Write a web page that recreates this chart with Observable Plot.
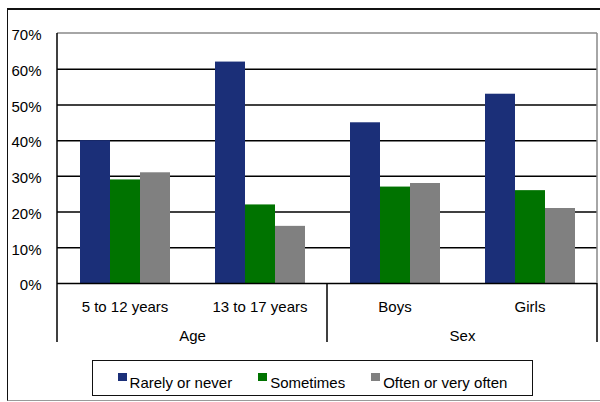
<!DOCTYPE html>
<html>
<head>
<meta charset="utf-8">
<script src="https://cdn.jsdelivr.net/npm/d3@7"></script>
<script src="https://cdn.jsdelivr.net/npm/@observablehq/plot@0.6"></script>
<style>
  html, body { margin: 0; padding: 0; background: #fff; }
  body { width: 600px; height: 402px; overflow: hidden; position: relative;
         font-family: "Liberation Sans", Arial, sans-serif; color: #000; }
  #outer { position: absolute; left: 7px; top: 8px; width: 600px; height: 393px; box-sizing: border-box;
           border-top: 2px solid #111; border-left: 1.5px solid #111; border-bottom: 1.5px solid #9a9a9a; }
  #chart { position: absolute; left: 0; top: 0; }
  #legend { position: absolute; left: 92px; top: 360px; width: 441px; height: 36px; box-sizing: border-box;
            border: 1.5px solid #111; padding-top: 12px; display: flex; justify-content: center; gap: 26px;
            font-size: 15px; }
  #legend .item { display: flex; align-items: flex-start; }
  #legend .sw { width: 9px; height: 8px; margin-right: 3px; }
  #legend .lab { margin-top: 1px; line-height: 17px; white-space: nowrap; }
</style>
</head>
<body>
<div id="outer"></div>
<div id="chart"></div>
<div id="legend"></div>
<script>
// Response categories and their colours
const series = ["Rarely or never", "Sometimes", "Often or very often"];
const seriesColors = ["#1b2f78", "#007300", "#808080"];

// Population groups along the bottom, and the heading each one falls under
const categories = ["5 to 12 years", "13 to 17 years", "Boys", "Girls"];
const groupOf = ["Age", "Age", "Sex", "Sex"];

// Share of children (%) in each response category
const rarelyOrNever = [40, 62, 45, 53];
const sometimes = [29, 22, 27, 26];
const oftenOrVeryOften = [31, 16, 28, 21];

// Value axis ticks (%)
const yTicks = [0, 10, 20, 30, 40, 50, 60, 70];

const valuesBySeries = [rarelyOrNever, sometimes, oftenOrVeryOften];
const data = categories.flatMap((c, i) =>
  series.map((s, j) => ({category: c, series: s, value: valuesBySeries[j][i]}))
);

// One heading per group, anchored at the facet where the group's midpoint lies
const groupNames = [...new Set(groupOf)];
const groupLabels = groupNames.map(g => {
  const members = categories.filter((c, i) => groupOf[i] === g);
  return {group: g, fx: members[Math.floor(members.length / 2)]};
});

const font = "'Liberation Sans', Arial, sans-serif";
const chart = Plot.plot({
  width: 600,
  height: 350,
  marginLeft: 56,
  marginRight: 3,
  marginTop: 33,
  marginBottom: 67,
  style: {background: "transparent", fontFamily: font, fontSize: "15px", color: "#000"},
  fx: {domain: categories, padding: 0, label: null},
  x: {domain: series, paddingInner: 0, paddingOuter: 0.73, axis: null},
  y: {domain: [0, 70]},
  color: {domain: series, range: seriesColors},
  marks: [
    Plot.ruleY(yTicks.slice(1, -1), {stroke: "#000", strokeWidth: 1.5}),
    Plot.barY(data, {fx: "category", x: "series", y: "value", fill: "series"}),
    Plot.ruleY([0], {stroke: "#000", strokeWidth: 1.5}),
    Plot.axisY({ticks: yTicks, tickFormat: d => `${d}%`, tickSize: 0, tickPadding: 16,
                fontSize: 15, dy: 2, label: null}),
    Plot.axisFx({anchor: "bottom", tickSize: 0, tickPadding: 18, fontSize: 15, label: null}),
    Plot.text(groupLabels, {fx: "fx", text: "group", frameAnchor: "bottom-left",
                            textAnchor: "middle", dy: 57, fontSize: 15, fill: "#000"})
  ]
});
document.getElementById("chart").append(chart);

// Plot-area frame and the ruled table under the category labels
const fxScale = chart.scale("fx");
const yScale = chart.scale("y");
const frameLeft = fxScale.apply(categories[0]);
const frameRight = fxScale.apply(categories[categories.length - 1]) + fxScale.bandwidth;
const frameTop = yScale.apply(yTicks[yTicks.length - 1]);
const frameBase = yScale.apply(0);
const tableBottom = frameBase + 59;
const dividers = categories
  .map((c, i) => (i > 0 && groupOf[i] !== groupOf[i - 1]) ? fxScale.apply(c) : null)
  .filter(v => v !== null);

const rules = d3.select(chart).append("g").attr("fill", "none");
const line = (x1, y1, x2, y2, stroke) =>
  rules.append("line").attr("x1", x1).attr("y1", y1).attr("x2", x2).attr("y2", y2)
   .attr("stroke", stroke).attr("stroke-width", 1.5);
line(frameLeft, frameTop, frameRight, frameTop, "#888");
line(frameRight, frameTop, frameRight, frameBase, "#888");
line(frameLeft, frameTop, frameLeft, tableBottom, "#000");
line(frameRight, frameBase, frameRight, tableBottom, "#000");
dividers.forEach(x => line(x, frameBase, x, tableBottom, "#000"));

// Legend
const legend = d3.select("#legend");
series.forEach((s, i) => {
  const item = legend.append("div").attr("class", "item");
  item.append("div").attr("class", "sw").style("background", seriesColors[i]);
  item.append("div").attr("class", "lab").text(s);
});
</script>
</body>
</html>
